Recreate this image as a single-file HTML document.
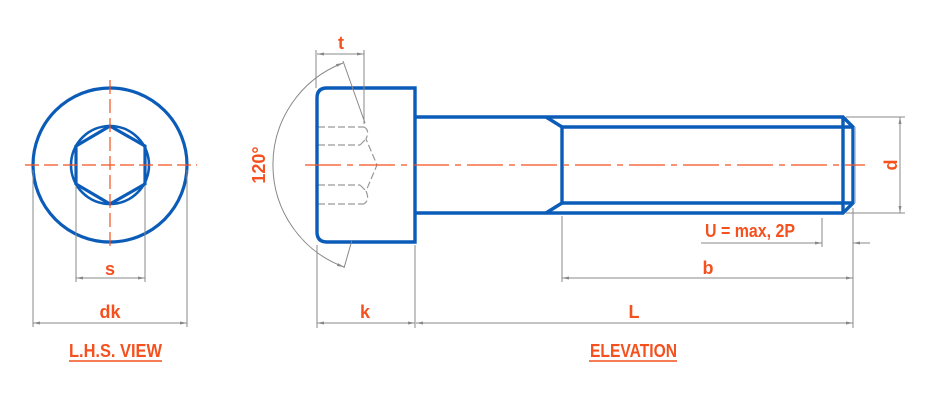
<!DOCTYPE html>
<html><head><meta charset="utf-8"><style>
html,body{margin:0;padding:0;background:#fff;}
svg{display:block;}
text{font-family:"Liberation Sans Narrow","Liberation Sans",sans-serif;font-weight:bold;fill:#f4511e;}
</style></head><body>
<svg width="928" height="414" viewBox="0 0 928 414" xmlns="http://www.w3.org/2000/svg">
<defs>
<marker id="a" markerWidth="8" markerHeight="6" refX="7" refY="3" orient="auto-start-reverse" markerUnits="userSpaceOnUse"><path d="M0,1.5 L7,3 L0,4.5z" fill="#888"/></marker>
</defs>
<!-- LHS view -->
<g fill="none" stroke="#0a5cb8" stroke-width="3.2">
<circle cx="110" cy="165" r="77"/>
<circle cx="110" cy="165" r="39" stroke-width="2.6"/>
<polygon points="110,126 145,146 145,184 110,204 76,184 76,146"/>
</g>
<g stroke="#f4511e" stroke-width="1.2" stroke-dasharray="14,5">
<line x1="25" y1="165" x2="197" y2="165"/>
<line x1="110" y1="80" x2="110" y2="250"/>
</g>
<g stroke="#888" stroke-width="1" fill="none">
<line x1="76" y1="186" x2="76" y2="282"/><line x1="145" y1="186" x2="145" y2="282"/>
<line x1="76" y1="278" x2="145" y2="278" marker-start="url(#a)" marker-end="url(#a)"/>
<line x1="33" y1="170" x2="33" y2="327"/><line x1="187" y1="170" x2="187" y2="327"/>
<line x1="33" y1="323" x2="187" y2="323" marker-start="url(#a)" marker-end="url(#a)"/>
</g>
<text x="110" y="275" font-size="18" text-anchor="middle">s</text>
<text x="110" y="318" font-size="18" text-anchor="middle">dk</text>
<text x="69" y="357" font-size="18" textLength="93" lengthAdjust="spacingAndGlyphs">L.H.S. VIEW</text>
<line x1="69" y1="361" x2="162" y2="361" stroke="#f4511e" stroke-width="1.5"/>

<!-- Elevation -->
<g stroke="#999" stroke-width="1.2" fill="none" stroke-dasharray="7,3">
<line x1="318" y1="127" x2="364" y2="127"/><line x1="318" y1="145" x2="360" y2="145"/>
<line x1="318" y1="185" x2="360" y2="185"/><line x1="318" y1="204" x2="364" y2="204"/>
<path d="M364,127 Q370,130 366,139 L377,165 L366,191 Q370,200 364,204"/>
<path d="M360,145 L366,139 M360,185 L366,191"/>
</g>
<g fill="none" stroke="#0a5cb8" stroke-width="3.4">
<path d="M415,88 L327,88 Q317,88 317,98 L317,232 Q317,242 327,242 L415,242 Z"/>
<path d="M416,117 L843,117 L853,127 L853,203 L843,213 L416,213"/>
<path d="M546,117 L562,127 L562,203 L546,213"/>
<line x1="562" y1="127" x2="853" y2="127"/>
<line x1="562" y1="203" x2="853" y2="203"/>
<line x1="843" y1="117" x2="843" y2="213"/>
</g>
<line x1="855" y1="127" x2="855" y2="203" stroke="#9bb8dd" stroke-width="1.5"/>
<line x1="305" y1="165" x2="865" y2="165" stroke="#f4511e" stroke-width="1.2" stroke-dasharray="36,6,6,6"/>
<g stroke="#888" stroke-width="1" fill="none">
<path d="M343,63 A109,109 0 0 0 344,267" marker-start="url(#a)" marker-end="url(#a)"/>
<line x1="343" y1="61" x2="365" y2="123"/>
<line x1="344" y1="268" x2="352" y2="240"/>
<line x1="316" y1="50" x2="316" y2="88"/><line x1="364" y1="50" x2="364" y2="124"/>
<line x1="317" y1="54" x2="364" y2="54" marker-start="url(#a)" marker-end="url(#a)"/>
<line x1="317" y1="245" x2="317" y2="328"/><line x1="415" y1="245" x2="415" y2="328"/>
<line x1="317" y1="323" x2="415" y2="323" marker-start="url(#a)" marker-end="url(#a)"/>
<line x1="416" y1="323" x2="853" y2="323" marker-start="url(#a)" marker-end="url(#a)"/>
<line x1="562" y1="216" x2="562" y2="282"/><line x1="853" y1="208" x2="853" y2="328"/>
<line x1="562" y1="278" x2="853" y2="278" marker-start="url(#a)" marker-end="url(#a)"/>
<line x1="822" y1="218" x2="822" y2="247"/>
<line x1="701" y1="243" x2="822" y2="243" marker-end="url(#a)"/>
<line x1="853" y1="243" x2="870" y2="243" marker-start="url(#a)"/>
<line x1="846" y1="117" x2="905" y2="117"/><line x1="846" y1="213" x2="905" y2="213"/>
<line x1="900" y1="117" x2="900" y2="213" marker-start="url(#a)" marker-end="url(#a)"/>
</g>
<text x="341" y="49" font-size="18" text-anchor="middle">t</text>
<text transform="translate(265,165) rotate(-90)" font-size="18" text-anchor="middle">120°</text>
<text x="365" y="318" font-size="18" text-anchor="middle">k</text>
<text x="634" y="318" font-size="18" text-anchor="middle">L</text>
<text x="708" y="274" font-size="18" text-anchor="middle">b</text>
<text x="705" y="237" font-size="18" textLength="90" lengthAdjust="spacingAndGlyphs">U = max, 2P</text>
<text transform="translate(897,165) rotate(-90)" font-size="18" text-anchor="middle">d</text>
<text x="590" y="357" font-size="18" textLength="87" lengthAdjust="spacingAndGlyphs">ELEVATION</text>
<line x1="589" y1="361" x2="677" y2="361" stroke="#f4511e" stroke-width="1.5"/>
</svg>
</body></html>
